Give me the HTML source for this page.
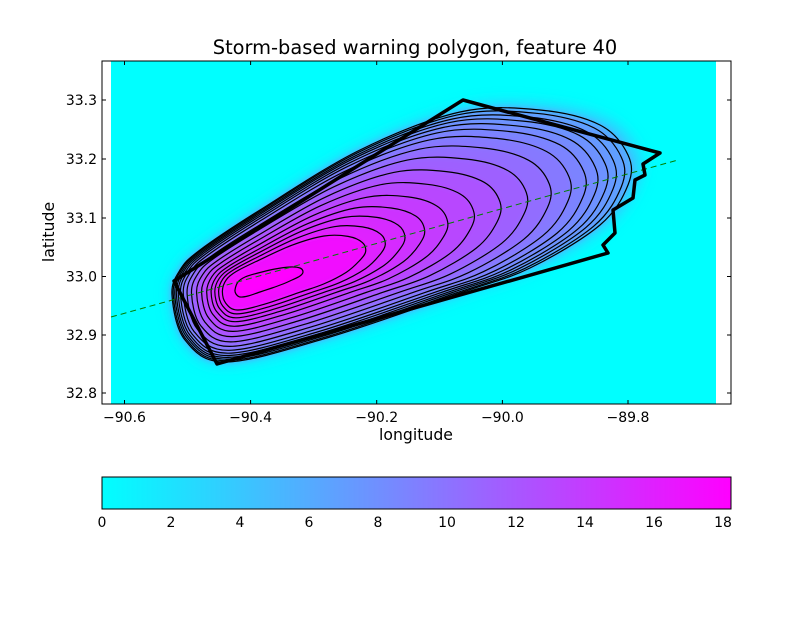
<!DOCTYPE html>
<html><head><meta charset="utf-8"><style>
html,body{margin:0;padding:0;background:#fff;}
svg text{font-family:"DejaVu Sans","Liberation Sans",sans-serif;}
</style></head><body>
<svg id="s" width="812" height="612" xmlns="http://www.w3.org/2000/svg">
<defs>
<clipPath id="img"><rect x="111" y="61" width="605" height="343"/></clipPath>
<filter id="bl" x="-20%" y="-20%" width="140%" height="140%"><feGaussianBlur stdDeviation="3"/></filter>
<filter id="bl2" x="-20%" y="-20%" width="140%" height="140%"><feGaussianBlur stdDeviation="7"/></filter>
<linearGradient id="cb" x1="0" x2="1" y1="0" y2="0">
<stop offset="0" stop-color="#00ffff"/><stop offset="1" stop-color="#ff00ff"/></linearGradient>
</defs>
<rect x="0" y="0" width="812" height="612" fill="#fff"/>
<g clip-path="url(#img)">
<rect x="111" y="61" width="605" height="343" fill="#00ffff"/>
<g id="halo" filter="url(#bl2)"></g>
<g id="fill" filter="url(#bl)"></g>
<g id="cont" fill="none" stroke="#000" stroke-width="1.2"></g>
</g>
<line x1="111" y1="317" x2="678" y2="160" stroke="#008000" stroke-width="1" stroke-dasharray="6,4"/>
<polygon points="463,100 660,153 643,164 645,175 635,180 633,198 613,210 615,233 603,245 608,253 217,364 174,281" fill="none" stroke="#000" stroke-width="3.5" stroke-linejoin="round"/>
<rect x="102" y="61" width="629" height="343" fill="none" stroke="#000" stroke-width="1"/>
<g id="ticks" stroke="#000" stroke-width="1"></g>
<g id="labels" font-size="14" fill="#000"></g>
<text x="415" y="54" font-size="19.4" text-anchor="middle">Storm-based warning polygon, feature 40</text>
<text x="416" y="440" font-size="15.7" text-anchor="middle">longitude</text>
<text x="54" y="232" font-size="15.7" text-anchor="middle" transform="rotate(-90 54 232)">latitude</text>
<rect x="102" y="477" width="629" height="32" fill="url(#cb)" stroke="#000" stroke-width="1"/>
</svg>
<script>
var NS="http://www.w3.org/2000/svg";
function el(t,a,p){var e=document.createElementNS(NS,t);for(var k in a)e.setAttribute(k,a[k]);p.appendChild(e);return e;}
var O=[[172,295],[180,270],[200,250],[260,210],[360,150],[460,112],[540,110],[600,125],[628,155],[628,185],[600,225],[530,268],[460,293],[330,337],[227,362],[185,340]];
var I=[[235,290],[238,282],[245,277],[258,273],[275,269],[290,267],[300,268],[303,272],[300,276],[292,280],[283,284],[272,288],[260,292],[248,296],[240,297],[236,294]];
function path(P){var n=P.length,d="M"+P[0][0].toFixed(1)+","+P[0][1].toFixed(1);
for(var i=0;i<n;i++){var p0=P[(i-1+n)%n],p1=P[i],p2=P[(i+1)%n],p3=P[(i+2)%n];
d+=" C"+(p1[0]+(p2[0]-p0[0])/6).toFixed(1)+","+(p1[1]+(p2[1]-p0[1])/6).toFixed(1)+" "+(p2[0]-(p3[0]-p1[0])/6).toFixed(1)+","+(p2[1]-(p3[1]-p1[1])/6).toFixed(1)+" "+p2[0].toFixed(1)+","+p2[1].toFixed(1);}
return d+"Z";}
var T=[0,0.02,0.045,0.07,0.1,0.135,0.18,0.24,0.31,0.39,0.47,0.55,0.62,0.68,0.74,0.80,1];
function tOf(L){return T[L-1];}
function shape(t){return O.map(function(p,i){return[p[0]+t*(I[i][0]-p[0]),p[1]+t*(I[i][1]-p[1])];});}
function col(v){var f=Math.max(0,Math.min(1,v/18));return "rgb("+Math.round(255*f)+","+Math.round(255*(1-f))+",255)";}
var hg=document.getElementById("halo"),fg=document.getElementById("fill"),cg=document.getElementById("cont");
el("path",{d:path(shape(-0.03)),fill:col(4)},hg);
el("path",{d:path(shape(0)),fill:col(6)},fg);
for(var L=1;L<=17;L++){var t=tOf(L);var tn=L<17?tOf(L+1):1.1;var tm=(t+tn)/2;
el("path",{d:path(shape(t)),fill:col(6+12*Math.pow(tm,0.8))},fg);}
for(var L=1;L<=17;L++)el("path",{d:path(shape(tOf(L)))},cg);
var tg=document.getElementById("ticks"),lg=document.getElementById("labels");
var xs=[[124.5,"\u221290.6"],[250.6,"\u221290.4"],[376.7,"\u221290.2"],[502.4,"\u221290.0"],[628,"\u221289.8"]];
xs.forEach(function(a){el("line",{x1:a[0],y1:404,x2:a[0],y2:400},tg);el("line",{x1:a[0],y1:61,x2:a[0],y2:65},tg);
var t=el("text",{x:a[0],y:422,"text-anchor":"middle"},lg);t.textContent=a[1];});
var ys=[[100,"33.3"],[159,"33.2"],[218,"33.1"],[276.5,"33.0"],[335,"32.9"],[393,"32.8"]];
ys.forEach(function(a){el("line",{x1:102,y1:a[0],x2:106,y2:a[0]},tg);el("line",{x1:731,y1:a[0],x2:727,y2:a[0]},tg);
var t=el("text",{x:97,y:a[0]+5,"text-anchor":"end"},lg);t.textContent=a[1];});
for(var v=0;v<=18;v+=2){var x=102+34.5*v;el("line",{x1:x,y1:509,x2:x,y2:505},tg);el("line",{x1:x,y1:477,x2:x,y2:481},tg);
var t=el("text",{x:x,y:527,"text-anchor":"middle"},lg);t.textContent=v;}
</script>
</body></html>
